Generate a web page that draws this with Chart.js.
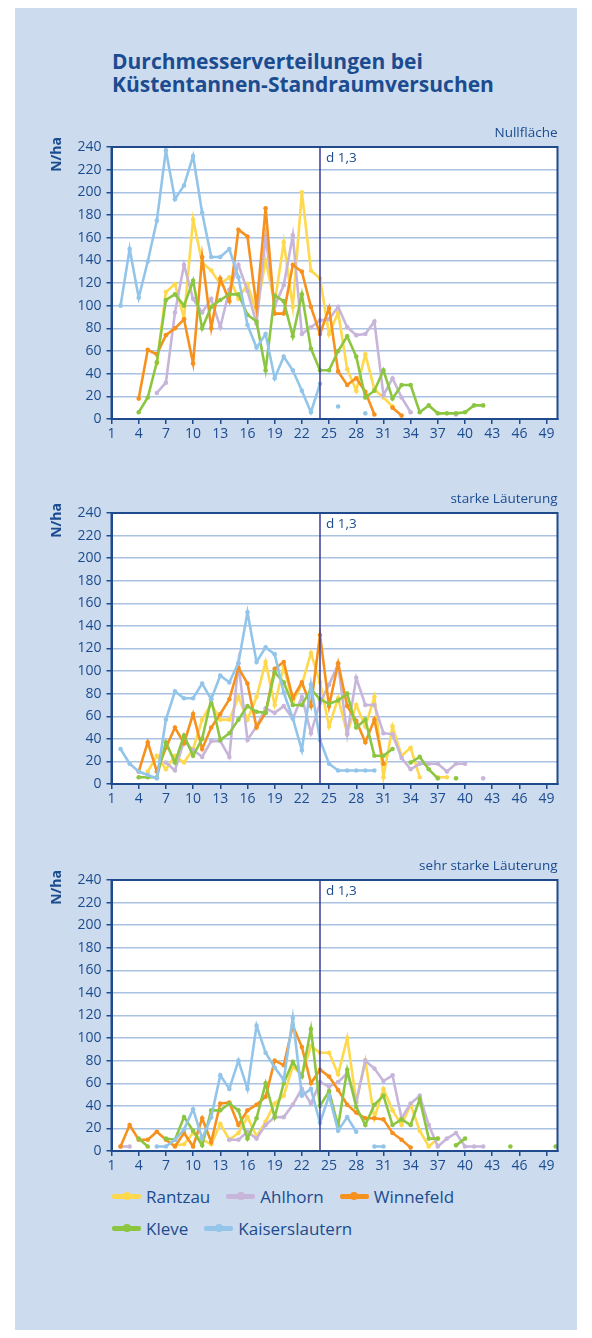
<!DOCTYPE html>
<html>
<head>
<meta charset="utf-8">
<script src="https://cdn.jsdelivr.net/npm/chart.js@4/dist/chart.umd.min.js"></script>
<style>
  html, body { margin: 0; padding: 0; background: #ffffff; }
  body { width: 592px; height: 1338px; position: relative; overflow: hidden; font-family: "Open Sans", "Noto Sans", sans-serif; }
  #panel { position: absolute; left: 15px; top: 8px; width: 562px; height: 1322px; background: #cddbee; }
  h1 { position: absolute; left: 112px; top: 50px; margin: 0; font-size: 21px; line-height: 23px; font-weight: 700; color: #1b4c8f; }
  canvas { position: absolute; left: 30px; }
  #legend { position: absolute; left: 112px; top: 1184px; width: 372px; display: flex; flex-wrap: wrap; column-gap: 16px; row-gap: 8px; }
  .item { display: flex; align-items: center; height: 24px; color: #1b4c8f; font-size: 17px; }
  .swatch { position: relative; width: 29px; height: 5px; border-radius: 2px; margin-right: 5px; }
  .swatch i { position: absolute; left: 10.5px; top: -1.5px; width: 8px; height: 8px; border-radius: 50%; }
</style>
</head>
<body>
<div id="panel"></div>
<h1>Durchmesserverteilungen bei<br>Küstentannen-Standraumversuchen</h1>
<canvas id="c1" width="540" height="329" style="top:120px"></canvas>
<canvas id="c2" width="540" height="328" style="top:486px"></canvas>
<canvas id="c3" width="540" height="328" style="top:853px"></canvas>
<div id="legend"></div>
<script>
// Axis setup
const xTickValues = [1, 4, 7, 10, 13, 16, 19, 22, 25, 28, 31, 34, 37, 40, 43, 46, 49];
const yTickValues = [0, 20, 40, 60, 80, 100, 120, 140, 160, 180, 200, 220, 240];
const d13 = 24;                       // mean diameter marker (d 1,3)
const d13Label = 'd 1,3';
const yTitle = 'N/ha';

const siteNames  = ['Rantzau', 'Ahlhorn', 'Winnefeld', 'Kleve', 'Kaiserslautern'];
const siteColors = ['#ffd94d', '#c8b5da', '#f7911e', '#8cc640', '#93c5ea'];
const panelTitles = ['Nullfläche', 'starke Läuterung', 'sehr starke Läuterung'];

// Stem numbers per diameter class (N/ha); each list starts at the class given in *Start
// Nullfläche
const nullStart = [6, 6, 4, 4, 2];
const nullRantzau = [49, 112, 119, 89, 176, 138, 131, 119, 125, 106, 119, 94, 140, 102, 156, 99, 200, 131, 124, 75, 94, 44, 25, 57, 26, 19, 11];
const nullAhlhorn = [23, 32, 94, 136, 106, 94, 106, 81, 114, 136, 113, 84, 161, 100, 118, 162, 75, 81, 87, 88, 99, 81, 74, 75, 86, 21, 36, 19, 6, null, null, null, null, 4];
const nullWinnefeld = [18, 61, 57, 74, 80, 88, 49, 143, 80, 124, 104, 167, 161, 99, 186, 93, 93, 136, 130, 99, 75, 98, 42, 30, 36, 24, 4, null, 10, 3];
const nullKleve = [6, 19, 50, 105, 110, 100, 122, 80, 99, 105, 110, 110, 92, 86, 43, 109, 104, 73, 110, 62, 43, 43, 60, 73, 55, 19, 25, 43, 18, 30, 30, 6, 12, 5, 5, 5, 6, 12, 12];
const nullKaiserslautern = [100, 150, 107, 139, 175, 237, 194, 206, 232, 182, 143, 143, 150, 125, 83, 63, 75, 36, 55, 43, 25, 6, 31, null, 11, null, null, 5];

// starke Läuterung
const starkStart = [5, 7, 4, 4, 2];
const starkRantzau = [11, 25, 13, 25, 19, 31, 57, 71, 57, 57, 77, 57, 77, 108, 70, 104, 73, 88, 116, 90, 51, 76, 45, 70, 51, 77, 6, 51, 25, 32, 6, null, 6, 6];
const starkAhlhorn = [19, 12, 38, 30, 24, 38, 38, 24, 107, 39, 51, 67, 63, 69, 58, 77, 45, 72, 88, 106, 44, 94, 70, 70, 45, 44, 23, 13, 18, 18, 18, 11, 18, 18, null, 5];
const starkWinnefeld = [11, 37, 11, 32, 50, 36, 62, 31, 50, 62, 75, 103, 89, 50, 63, 102, 108, 76, 90, 69, 132, 69, 107, 69, 56, 37, 57, 18];
const starkKleve = [6, 6, 6, 37, 19, 43, 25, 40, 75, 39, 45, 57, 69, 64, 63, 99, 90, 70, 70, 84, 75, 71, 74, 80, 50, 57, 25, 25, 31, null, 19, 24, 13, 5, null, 5];
const starkKaiserslautern = [31, 18, 11, 8, 5, 57, 82, 76, 76, 89, 75, 96, 90, 107, 152, 108, 121, 115, 81, 58, 30, 88, 39, 18, 12, 12, 12, 12, 12];

// sehr starke Läuterung
const sehrStart = [8, 2, 2, 4, 6];
const sehrRantzau = [5, 6, 16, 10, 6, 24, 10, 16, 30, 13, 26, 42, 49, 75, 67, 93, 87, 87, 68, 100, 44, 80, 29, 55, 36, 23, 41, 18, 4, 11];
const sehrAhlhorn = [4, 4, null, null, null, null, null, null, null, null, null, null, 10, 10, 17, 11, 23, 30, 30, 41, 55, 42, 61, 57, 61, 69, 43, 80, 73, 62, 67, 29, 42, 49, 23, 4, 11, 16, 4, 4, 4];
const sehrWinnefeld = [4, 23, 10, 10, 17, 10, 4, 16, 4, 29, 8, 42, 43, 23, 36, 41, 48, 80, 76, 111, 92, 60, 72, 66, 54, 41, 34, 29, 29, 28, 16, 10, 3];
const sehrKleve = [11, 4, null, 11, 10, 30, 18, 5, 36, 36, 42, 36, 11, 29, 60, 30, 60, 79, 66, 108, 40, 53, 22, 72, 39, 23, 41, 49, 23, 28, 23, 46, 11, 11, null, 5, 11, null, null, null, null, 4, null, null, null, null, 4];
const sehrKaiserslautern = [4, 4, 10, 19, 37, 11, 30, 67, 55, 80, 55, 111, 87, 74, 63, 118, 49, 55, 25, 49, 18, 30, 17, null, 4, 4];

const navy = '#1b4c8f';
const frameColor = '#1f4a8c';
const markerLine = '#3c3a98';
const gridColor = '#a9c2e1';
const fontFamily = '"Open Sans", "Noto Sans", sans-serif';

// White plot area, frame, d 1,3 marker and panel texts
const panelDecor = {
  id: 'panelDecor',
  beforeDraw(chart) {
    const a = chart.chartArea, ctx = chart.ctx;
    ctx.save();
    ctx.fillStyle = '#ffffff';
    ctx.fillRect(a.left, a.top, a.right - a.left, a.bottom - a.top);
    ctx.restore();
  },
  afterDatasetsDraw(chart) {
    const a = chart.chartArea, ctx = chart.ctx;
    const x = chart.scales.x.getPixelForValue(d13);
    ctx.save();
    ctx.strokeStyle = markerLine;
    ctx.lineWidth = 1.5;
    ctx.beginPath();
    ctx.moveTo(x, a.top);
    ctx.lineTo(x, a.bottom);
    ctx.stroke();
    ctx.fillStyle = navy;
    ctx.font = '13.5px ' + fontFamily;
    ctx.textAlign = 'left';
    ctx.textBaseline = 'middle';
    ctx.fillText(d13Label, x + 6, a.top + 11);
    ctx.restore();
  },
  afterDraw(chart, args, opts) {
    const a = chart.chartArea, ctx = chart.ctx;
    ctx.save();
    ctx.strokeStyle = frameColor;
    ctx.lineWidth = 2;
    ctx.strokeRect(a.left, a.top, a.right - a.left, a.bottom - a.top);
    ctx.fillStyle = navy;
    ctx.font = '13.5px ' + fontFamily;
    ctx.textAlign = 'right';
    ctx.textBaseline = 'middle';
    ctx.fillText(opts.title, a.right, a.top - 14);
    ctx.translate(27, a.top - 10);
    ctx.rotate(-Math.PI / 2);
    ctx.font = 'bold 14px ' + fontFamily;
    ctx.textAlign = 'right';
    ctx.fillText(yTitle, 0, 0);
    ctx.restore();
  }
};

function makeChart(id, title, series, starts) {
  const datasets = series.map((vals, i) => ({
    label: siteNames[i],
    data: vals.map((v, j) => ({ x: starts[i] + j, y: v })),
    borderColor: siteColors[i],
    backgroundColor: siteColors[i],
    borderWidth: 2.6,
    pointRadius: 2.3,
    pointBorderWidth: 0,
    pointHoverRadius: 0,
    tension: 0,
    spanGaps: false,
    order: siteNames.length - i
  }));
  new Chart(document.getElementById(id), {
    type: 'line',
    data: { datasets },
    plugins: [panelDecor],
    options: {
      responsive: false,
      animation: false,
      devicePixelRatio: 1,
      layout: { padding: { top: 27, right: 12.5, left: 0, bottom: 0 } },
      plugins: { legend: { display: false }, tooltip: { enabled: false }, panelDecor: { title } },
      scales: {
        x: {
          type: 'linear', min: 1, max: 50.2,
          afterBuildTicks: s => { s.ticks = xTickValues.map(v => ({ value: v })); },
          afterFit: s => { s.height = 30; },
          grid: { drawOnChartArea: false, drawTicks: true, tickLength: 5, tickColor: frameColor, lineWidth: 1.5 },
          border: { display: true, color: frameColor, width: 2 },
          ticks: { color: navy, font: { family: fontFamily, size: 14 }, padding: 2, maxRotation: 0, autoSkip: false }
        },
        y: {
          min: 0, max: 240,
          afterBuildTicks: s => { s.ticks = yTickValues.map(v => ({ value: v })); },
          afterFit: s => { s.width = 81.5; },
          grid: { color: gridColor, lineWidth: 1.5, drawTicks: true, tickLength: 5, tickColor: frameColor },
          border: { display: true, color: frameColor, width: 2 },
          ticks: { color: navy, font: { family: fontFamily, size: 14 }, padding: 5 }
        }
      }
    }
  });
}

makeChart('c1', panelTitles[0], [nullRantzau, nullAhlhorn, nullWinnefeld, nullKleve, nullKaiserslautern], nullStart);
makeChart('c2', panelTitles[1], [starkRantzau, starkAhlhorn, starkWinnefeld, starkKleve, starkKaiserslautern], starkStart);
makeChart('c3', panelTitles[2], [sehrRantzau, sehrAhlhorn, sehrWinnefeld, sehrKleve, sehrKaiserslautern], sehrStart);

// Legend
const legend = document.getElementById('legend');
siteNames.forEach((name, i) => {
  const item = document.createElement('div');
  item.className = 'item';
  const sw = document.createElement('span');
  sw.className = 'swatch';
  sw.style.background = siteColors[i];
  const dot = document.createElement('i');
  dot.style.background = siteColors[i];
  sw.appendChild(dot);
  item.appendChild(sw);
  item.appendChild(document.createTextNode(name));
  legend.appendChild(item);
});
</script>
</body>
</html>
